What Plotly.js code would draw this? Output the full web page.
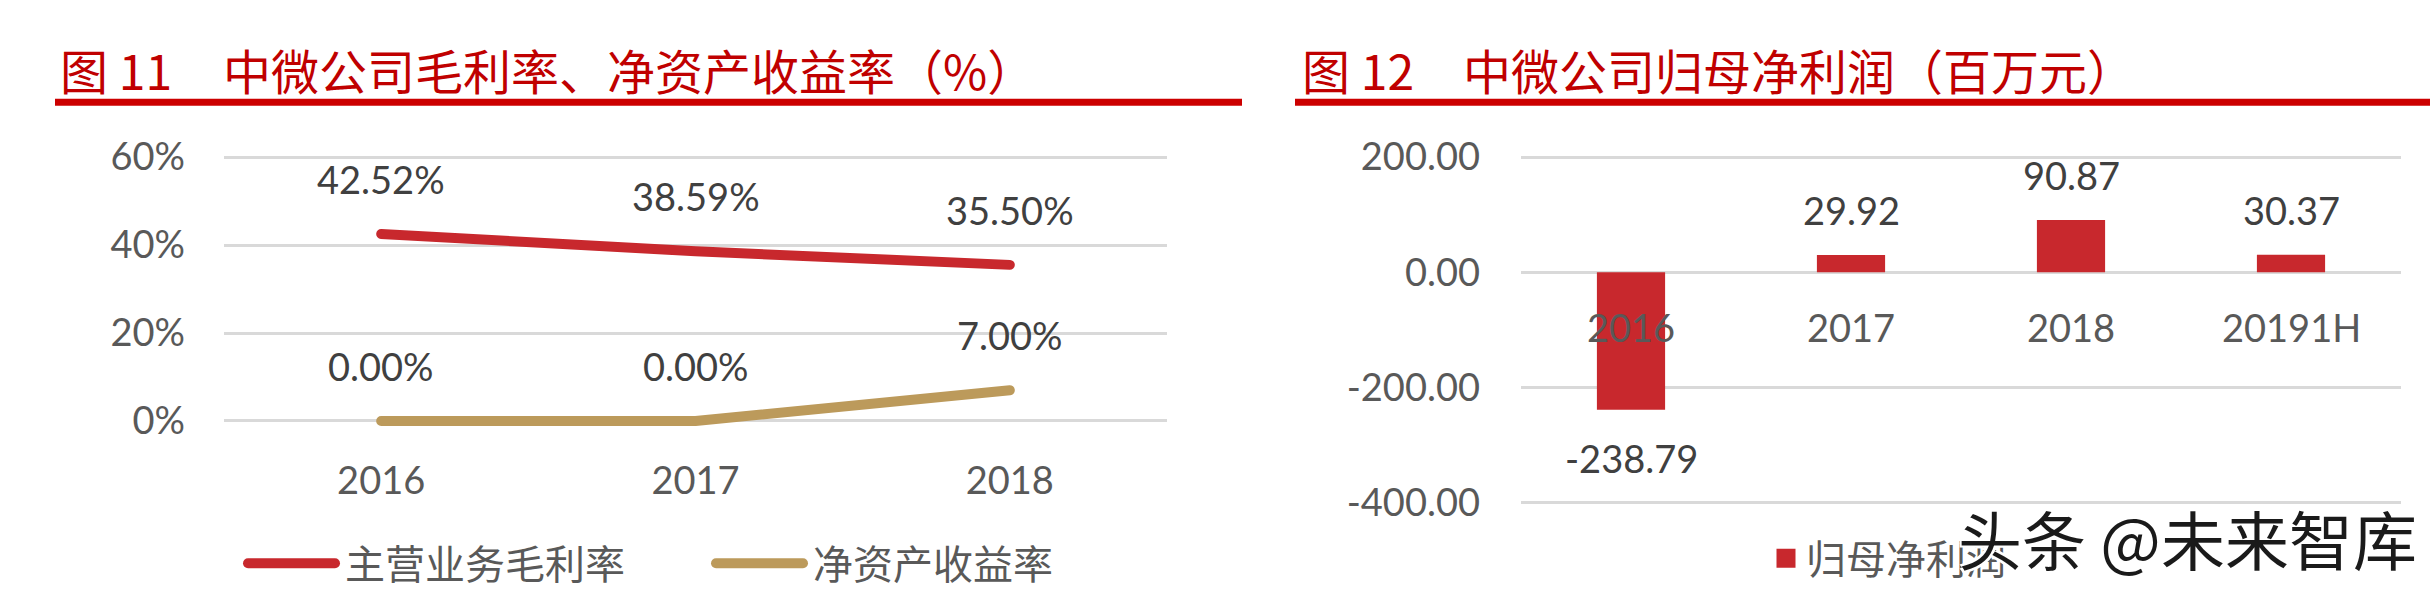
<!DOCTYPE html>
<html>
<head>
<meta charset="utf-8">
<script src="https://cdn.plot.ly/plotly-3.0.1.min.js"></script>
<style>html,body{margin:0;padding:0;background:#fff;}#chart{width:2430px;height:596px;}</style>
</head>
<body>
<div id="chart"></div>
<script>
// ---- data ----
const years1 = ['2016', '2017', '2018'];
const grossMargin = [0.4252, 0.3859, 0.3550];
const roe = [0.0, 0.0, 0.07];
const seriesNames1 = ['主营业务毛利率', '净资产收益率'];
const yTicks1 = [0, 0.2, 0.4, 0.6];
const yTickText1 = ['0%', '20%', '40%', '60%'];

const years2 = ['2016', '2017', '2018', '20191H'];
const netProfit = [-238.79, 29.92, 90.87, 30.37];
const seriesName2 = '归母净利润';
const yTicks2 = [-400, -200, 0, 200];
const yTickText2 = ['-400.00', '-200.00', '0.00', '200.00'];

const title1Num = '图 11';
const title1 = '中微公司毛利率、净资产收益率（%）';
const title2Num = '图 12';
const title2 = '中微公司归母净利润（百万元）';
const watermark = '头条 @未来智库';

// ---- style ----
const RED = '#C8282D';
const GOLD = '#BC9A5B';
const TITLE_RED = '#C00000';
const GRID = '#D9D9D9';
const TXT = '#595959';
const LAB = '#404040';
const NUM_FONT = 'Lato, "Open Sans", sans-serif';
const CJK_FONT = '"Noto Sans CJK SC", sans-serif';

const traces = [
  {type: 'scatter', mode: 'lines', x: years1, y: grossMargin, name: seriesNames1[0],
   line: {color: RED, width: 10}, xaxis: 'x', yaxis: 'y', legend: 'legend', hoverinfo: 'skip'},
  {type: 'scatter', mode: 'lines', x: years1, y: roe, name: seriesNames1[1],
   line: {color: GOLD, width: 10}, xaxis: 'x', yaxis: 'y', legend: 'legend', hoverinfo: 'skip'},
  {type: 'bar', x: years2, y: netProfit, name: seriesName2,
   marker: {color: RED}, xaxis: 'x2', yaxis: 'y2', legend: 'legend2', hoverinfo: 'skip', showlegend: true}
];

const annotations = [];
function pct(v) { return (v * 100).toFixed(2) + '%'; }
// category positions given by index (numeric-looking category names would be read as indices)
[grossMargin, roe].forEach(function (arr) {
  arr.forEach(function (v, i) {
    annotations.push({xref: 'x', yref: 'y', x: i, y: v, text: pct(v), showarrow: false,
      yanchor: 'middle', yshift: 55, font: {family: NUM_FONT, size: 38, color: LAB}});
  });
});
netProfit.forEach(function (v, i) {
  annotations.push({xref: 'x2', yref: 'y2', x: i, y: v, text: v.toFixed(2), showarrow: false,
    yanchor: 'middle', yshift: v >= 0 ? 45 : -48, font: {family: NUM_FONT, size: 38, color: LAB}});
  annotations.push({xref: 'x2', yref: 'y2', x: i, y: 0, text: years2[i], showarrow: false,
    yanchor: 'middle', yshift: -55, font: {family: NUM_FONT, size: 38, color: TXT}});
});
// titles
annotations.push({xref: 'paper', yref: 'paper', x: 58 / 2430, y: 1 - 70 / 596, xanchor: 'left', yanchor: 'middle',
  text: title1Num, showarrow: false, font: {family: CJK_FONT, size: 48, color: TITLE_RED}});
annotations.push({xref: 'paper', yref: 'paper', x: 221 / 2430, y: 1 - 70 / 596, xanchor: 'left', yanchor: 'middle',
  text: title1, showarrow: false, font: {family: CJK_FONT, size: 48, color: TITLE_RED}});
annotations.push({xref: 'paper', yref: 'paper', x: 1300 / 2430, y: 1 - 70 / 596, xanchor: 'left', yanchor: 'middle',
  text: title2Num, showarrow: false, font: {family: CJK_FONT, size: 48, color: TITLE_RED}});
annotations.push({xref: 'paper', yref: 'paper', x: 1461 / 2430, y: 1 - 70 / 596, xanchor: 'left', yanchor: 'middle',
  text: title2, showarrow: false, font: {family: CJK_FONT, size: 48, color: TITLE_RED}});
// watermark (overlaps the legend text in the reference as well)
annotations.push({xref: 'paper', yref: 'paper', x: 2187 / 2430, y: 1 - 543 / 596, xanchor: 'center', yanchor: 'middle',
  text: watermark, showarrow: false,
  font: {family: CJK_FONT, size: 64, color: '#1a1a1a',
    shadow: '2px 2px 0 #fff, -2px -2px 0 #fff, 2px -2px 0 #fff, -2px 2px 0 #fff'}});

function dom(a, b, total) { return [a / total, b / total]; }

const layout = {
  width: 2430, height: 596,
  margin: {l: 0, r: 0, t: 0, b: 0},
  paper_bgcolor: '#fff', plot_bgcolor: 'rgba(0,0,0,0)',
  showlegend: true,
  xaxis: {type: 'category', domain: dom(224, 1167, 2430), range: [-0.5, 2.5], showgrid: false, zeroline: false,
    showline: false, ticks: '', tickfont: {family: NUM_FONT, size: 38, color: TXT}, ticklabelstandoff: 12, fixedrange: true},
  yaxis: {domain: [(596 - 448.25) / 596, (596 - 136.75) / 596], range: [-0.05, 0.65], tickvals: yTicks1, ticktext: yTickText1,
    showgrid: true, gridcolor: GRID, gridwidth: 3, zeroline: false, showline: false, ticks: '',
    ticklabelstandoff: 38, tickfont: {family: NUM_FONT, size: 38, color: TXT}, fixedrange: true},
  xaxis2: {type: 'category', anchor: 'y2', domain: dom(1521, 2401, 2430), range: [-0.5, 3.5], showgrid: false, zeroline: false,
    showline: false, ticks: '', showticklabels: false, fixedrange: true},
  yaxis2: {anchor: 'x2', domain: [(596 - 514.3) / 596, (596 - 153.2) / 596], range: [-410, 210], tickvals: yTicks2, ticktext: yTickText2,
    showgrid: true, gridcolor: GRID, gridwidth: 3, zeroline: false, showline: false, ticks: '',
    ticklabelstandoff: 40, tickfont: {family: NUM_FONT, size: 38, color: TXT}, fixedrange: true},
  bargap: 0.69,
  legend: {orientation: 'h', x: 238 / 2430, xanchor: 'left', y: 26 / 596, yanchor: 'middle',
    itemwidth: 97, entrywidth: 356, entrywidthmode: 'pixels',
    font: {family: CJK_FONT, size: 40, color: TXT}, bgcolor: 'rgba(0,0,0,0)'},
  legend2: {orientation: 'h', x: 1766 / 2430, xanchor: 'left', y: 31 / 596, yanchor: 'middle',
    font: {family: CJK_FONT, size: 40, color: TXT}, bgcolor: 'rgba(0,0,0,0)'},
  shapes: [
    {type: 'rect', xref: 'paper', yref: 'paper', x0: 55 / 2430, x1: 1242 / 2430, y0: 1 - 107 / 596, y1: 1 - 100 / 596,
      fillcolor: '#CC0000', line: {width: 0}},
    {type: 'rect', xref: 'paper', yref: 'paper', x0: 1295 / 2430, x1: 1, y0: 1 - 107 / 596, y1: 1 - 100 / 596,
      fillcolor: '#CC0000', line: {width: 0}}
  ],
  annotations: annotations
};

Plotly.newPlot('chart', traces, layout, {staticPlot: true, displayModeBar: false}).then(function (gd) {
  // rounded line ends like the reference, thicker legend lines, larger legend square
  gd.querySelectorAll('.scatterlayer .js-line').forEach(function (p) {
    p.style.strokeLinecap = 'round'; p.style.strokeLinejoin = 'round';
  });
  gd.querySelectorAll('.legendlines path').forEach(function (p) {
    p.setAttribute('d', 'M10,0h87');
    p.style.strokeWidth = '10px'; p.style.strokeLinecap = 'round';
  });
  gd.querySelectorAll('.legend2 .legendpoints path').forEach(function (p) {
    p.setAttribute('d', 'M9.5,9.5H-9.5V-9.5H9.5Z');
  });
});
</script>
</body>
</html>
